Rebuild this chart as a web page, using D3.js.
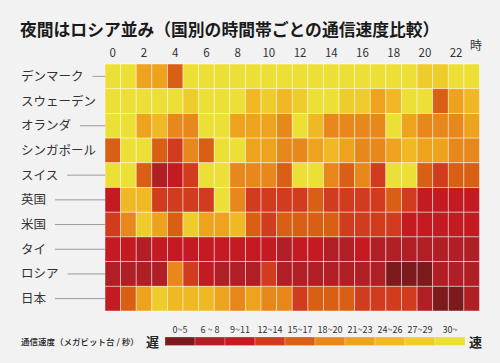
<!DOCTYPE html>
<html><head><meta charset="utf-8">
<script src="https://cdn.jsdelivr.net/npm/d3@7"></script>
<style>
html,body{margin:0;padding:0;background:#f2f2f2;}
svg{display:block;font-family:"Noto Sans CJK JP","Noto Sans",sans-serif;}
</style></head>
<body>
<svg id="c" width="500" height="363"></svg>
<script>
const title = "夜間はロシア並み（国別の時間帯ごとの通信速度比較）";
const countries = ["デンマーク","スウェーデン","オランダ","シンガポール","スイス","英国","米国","タイ","ロシア","日本"];
const hours = d3.range(0, 24);
const hourTicks = [0,2,4,6,8,10,12,14,16,18,20,22];
// speed (Mbps) per hour 0..23
const denmark   = [32,32,22,22,16,32,32,32,32,32,32,32, 32,32,32,32,32,32,32,32,28,28,32,32];
const sweden    = [32,32,32,32,32,28,32,32,32,25,28,25, 28,32,32,28,28,22,25,32,32,16,22,25];
const netherlands=[32,32,22,25,19,19,32,32,22,22,22,19, 32,25,19,19,19,19,32,22,19,19,19,22];
const singapore = [16,32,32,16,13,19,16,32,32,22,22,19, 19,22,25,22,19,19,22,25,22,22,19,19];
const switzerland=[32,32,16,7,10,13,32,32,19,19,19,16, 32,32,19,16,19,13,32,32,16,13,16,16];
const uk        = [10,25,25,13,13,13,13,32,19,13,13,13, 13,16,13,13,13,13,16,13,10,10,10,10];
const us        = [13,19,28,22,16,28,22,22,25,16,13,16, 16,16,16,13,13,13,13,10,10,10,10,10];
const thailand  = [10,10,7,10,10,10,10,10,10,10,10,7, 10,10,7,7,10,7,7,7,7,7,7,7];
const russia    = [7,7,7,7,19,13,10,7,7,7,13,7, 7,7,7,7,7,7,3,3,3,7,7,7];
const japan     = [10,16,22,28,25,25,25,22,19,22,19,19, 13,16,16,16,13,13,13,13,7,3,3,7];
const series = [denmark,sweden,netherlands,singapore,switzerland,uk,us,thailand,russia,japan];
const legendLabels = ["0~5","6 ~ 8","9~11","12~14","15~17","18~20","21~23","24~26","27~29","30~"];
const thresholds = [6,9,12,15,18,21,24,27,30];
const colors = ["#7c1a1e","#b01e26","#c41a21","#d03c1d","#d95f15","#e8871b","#eea31f","#f0b824","#eecc2b","#ecdf36"];

const svg = d3.select("#c");
const color = d3.scaleThreshold().domain(thresholds).range(colors);
const x = d3.scaleBand().domain(hours).range([105, 479.5]);
const y = d3.scaleBand().domain(countries).range([64, 311]);

svg.append("text").attr("x", 20).attr("y", 36)
  .attr("font-size", 16.8).attr("font-weight", 700).attr("fill", "#1a1a1a")
  .text(title);

// cells
const cells = [];
series.forEach((row, i) => row.forEach((v, h) => cells.push({c: countries[i], h, v})));
svg.append("g").selectAll("rect").data(cells).join("rect")
  .attr("x", d => x(d.h)).attr("y", d => y(d.c))
  .attr("width", x.bandwidth()).attr("height", y.bandwidth())
  .attr("fill", d => color(d.v))
  .attr("stroke", "rgba(255,255,255,0.55)").attr("stroke-width", 0.8);

// hour labels
svg.append("g").selectAll("text").data(hourTicks).join("text")
  .attr("x", d => x(d) + x.bandwidth()/2).attr("y", 57)
  .attr("text-anchor", "middle").attr("font-size", 11.5).attr("fill", "#333")
  .text(d => d);
svg.append("text").attr("x", 470).attr("y", 50).attr("font-size", 12).attr("fill", "#333").text("時");

// row labels with leader lines
const rl = svg.append("g");
countries.forEach(c => {
  const cy = y(c) + y.bandwidth()/2;
  const t = rl.append("text").attr("x", 21).attr("y", cy + 4.5)
    .attr("font-size", 12.5).attr("fill", "#333").text(c);
  const end = 21 + t.node().getComputedTextLength();
  if (end + 9 < 100) {
    rl.append("line").attr("x1", end + 9).attr("x2", 105)
      .attr("y1", cy).attr("y2", cy).attr("stroke", "#9a9a9a").attr("stroke-width", 1);
  }
});

// legend
const lx = d3.scaleBand().domain(d3.range(10)).range([165, 465]);
svg.append("text").attr("x", 21).attr("y", 345).attr("font-size", 8.5)
  .attr("font-weight", 500).attr("fill", "#222").text("通信速度（メガビット台 / 秒）");
svg.append("text").attr("x", 146).attr("y", 347).attr("font-size", 13)
  .attr("font-weight", 700).attr("fill", "#222").text("遅");
svg.append("text").attr("x", 469).attr("y", 347).attr("font-size", 13)
  .attr("font-weight", 700).attr("fill", "#222").text("速");
const lg = svg.append("g");
lg.selectAll("rect").data(colors).join("rect")
  .attr("x", (d,i) => lx(i)).attr("y", 337).attr("width", lx.bandwidth()).attr("height", 8.5)
  .attr("fill", d => d).attr("stroke", "rgba(255,255,255,0.5)").attr("stroke-width", 0.5);
lg.selectAll("text").data(legendLabels).join("text")
  .attr("x", (d,i) => lx(i) + lx.bandwidth()/2).attr("y", 333)
  .attr("text-anchor", "middle").attr("font-size", 9).attr("fill", "#333")
  .text(d => d);
</script>
</body></html>
